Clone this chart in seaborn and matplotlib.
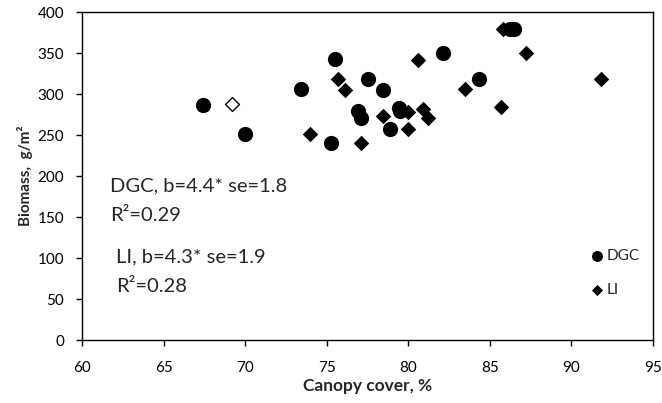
import numpy as np
import pandas as pd
import seaborn as sns
from matplotlib import pyplot as plt

# canopy cover (%) vs biomass (g/m2)
dgc_x = [67.4, 70.0, 73.4, 75.5, 75.25, 77.5, 76.9, 77.1, 78.45, 78.9, 79.4, 79.5, 82.1, 84.3, 86.2, 86.5]
dgc_y = [287, 251, 306, 343, 241, 318, 280, 271, 305, 257, 283, 279, 350, 319, 380, 380]

li_x = [74.0, 75.7, 76.1, 77.1, 78.45, 80.0, 80.0, 80.9, 81.2, 80.6, 83.5, 85.7, 85.8, 87.2, 91.8]
li_y = [251, 318, 305, 241, 273, 278, 257, 282, 271, 342, 307, 284, 380, 350, 319]

# LI point drawn hollow (outlier)
li_open_x = [69.2]
li_open_y = [288]

x_ticks = [60, 65, 70, 75, 80, 85, 90, 95]
y_ticks = [0, 50, 100, 150, 200, 250, 300, 350, 400]

sns.set_style("ticks")
plt.rcParams['font.family'] = ['Lato', 'DejaVu Sans']

dgc = pd.DataFrame({'cover': dgc_x, 'biomass': dgc_y})
li = pd.DataFrame({'cover': li_x, 'biomass': li_y})
li_open = pd.DataFrame({'cover': li_open_x, 'biomass': li_open_y})

fig = plt.figure(figsize=(6.62, 4.03), dpi=100)
ax = fig.add_axes([0.124, 0.156, 0.8625, 0.8135])

sns.scatterplot(data=dgc, x='cover', y='biomass', marker='o', s=120, color='black',
                edgecolor='black', linewidth=0, label='DGC', ax=ax, zorder=3)
sns.scatterplot(data=li, x='cover', y='biomass', marker='D', s=62, color='black',
                edgecolor='black', linewidth=0, label='LI', ax=ax, zorder=3)
sns.scatterplot(data=li_open, x='cover', y='biomass', marker='D', s=50, color='white',
                edgecolor='black', linewidth=1.0, legend=False, ax=ax, zorder=3)

ax.set_xlim(60, 95)
ax.set_ylim(0, 400)
ax.set_xticks(x_ticks)
ax.set_yticks(y_ticks)
ax.tick_params(direction='out', length=4, width=1, colors='black', labelsize=11)
ax.tick_params(axis='x', pad=11)
ax.tick_params(axis='y', pad=9)
for sp in ax.spines.values():
    sp.set_visible(True)
    sp.set_color('black')
    sp.set_linewidth(1)

ax.set_xlabel('Canopy cover, %', fontsize=12.5, fontweight='bold', labelpad=2)
ax.set_ylabel('Biomass,  g/m²', fontsize=11, fontweight='bold', labelpad=3)

# regression summaries
ax.text(61.7, 188, 'DGC, b=4.4* se=1.8', fontsize=14.5, va='center', ha='left')
ax.text(61.7, 152, 'R²=0.29', fontsize=14.5, va='center', ha='left')
ax.text(62.1, 101, 'LI, b=4.3* se=1.9', fontsize=14.5, va='center', ha='left')
ax.text(62.1, 66, 'R²=0.28', fontsize=14.5, va='center', ha='left')

ax.legend(loc='lower right', bbox_to_anchor=(1.0, 0.09), frameon=False, fontsize=11,
          markerscale=0.72, handletextpad=0.0, labelspacing=1.3, handlelength=1.2)

fig.savefig('out.png', dpi=100)
